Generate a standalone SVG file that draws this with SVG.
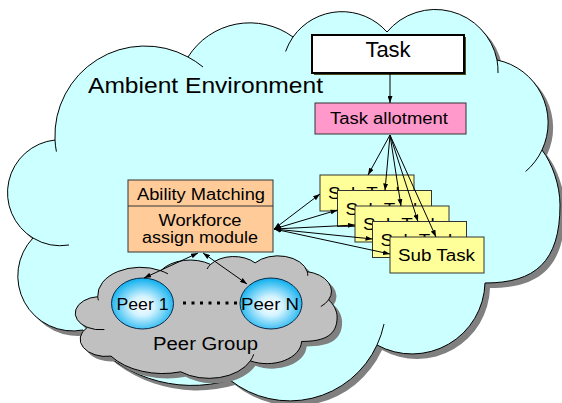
<svg xmlns="http://www.w3.org/2000/svg" width="562" height="403" viewBox="0 0 562 403">
<style>
text{font-family:"Liberation Sans",Arial,sans-serif;fill:#000}
.cloud{stroke:#000;stroke-width:1}
.tick{fill:none;stroke:#000;stroke-width:1}
.box{stroke:#333;stroke-width:1}
.sub{fill:#FFFF99;stroke:#333;stroke-width:1}
.con{stroke:#000;stroke-width:1;fill:none}
.peer{fill:url(#pg);stroke:#0a2a4a;stroke-width:1}
</style>
<defs>
<marker id="ah" viewBox="0 0 10 7" refX="10" refY="3.5" markerWidth="7" markerHeight="5" orient="auto-start-reverse" markerUnits="userSpaceOnUse">
<path d="M0,0 L10,3.5 L0,7 z" fill="#000"/>
</marker>
<radialGradient id="pg" cx="50%" cy="55%" r="55%">
<stop offset="0" stop-color="#ffffff"/>
<stop offset="0.35" stop-color="#d2f3ff"/>
<stop offset="1" stop-color="#0aaeee"/>
</radialGradient>
</defs>

<g id="ambient-environment">
<path transform="translate(5,5)" fill="#808080" d="M55,140 A90,90 0 0 1 188,57 A73,73 0 0 1 293,37 A60,60 0 0 1 387,32 A63,63 0 0 1 497,60 A64,64 0 0 1 542,150 C552,163 560,185 560,205 C560,262 535,283 485,283 A73,73 0 0 1 377,345 A96,96 0 0 1 230,380 A135,135 0 0 1 83,330 A55,55 0 0 1 33,238 A53,53 0 0 1 55,140 Z"/>
<path class="cloud" fill="#CCFFFF" d="M55,140 A90,90 0 0 1 188,57 A73,73 0 0 1 293,37 A60,60 0 0 1 387,32 A63,63 0 0 1 497,60 A64,64 0 0 1 542,150 C552,163 560,185 560,205 C560,262 535,283 485,283 A73,73 0 0 1 377,345 A96,96 0 0 1 230,380 A135,135 0 0 1 83,330 A55,55 0 0 1 33,238 A53,53 0 0 1 55,140 Z"/>
<path class="tick" d="M55,140 A90,90 0 0 0 56.4,151.6 M188,57 A90,90 0 0 1 203,67 M293,37 A60,60 0 0 0 285.6,51.5 M497,60 A63,63 0 0 1 498,73 M542,150 A64,64 0 0 1 525.6,171.5 M377,345 A96,96 0 0 0 384,324 M33,238 A53,53 0 0 0 69,245"/>
<text x="88" y="93" font-size="22" textLength="235" lengthAdjust="spacingAndGlyphs">Ambient Environment</text>
</g>

<g id="task">
<rect x="314" y="37" width="152" height="38" fill="#4d4d1a"/>
<rect x="312" y="35" width="152" height="38" fill="#fff" stroke="#000" stroke-width="2"/>
<text x="388" y="57" font-size="22" text-anchor="middle">Task</text>
</g>

<g id="task-allotment">
<rect class="box" x="315" y="103" width="151" height="31" fill="#FF99CC"/>
<text x="389" y="124" font-size="16" text-anchor="middle" textLength="118" lengthAdjust="spacingAndGlyphs">Task allotment</text>
</g>

<g id="workforce-module">
<rect class="box" x="128" y="180" width="145" height="72" fill="#FFCC99"/>
<line x1="128" y1="206" x2="273" y2="206" stroke="#333" stroke-width="1"/>
<text x="201" y="200" font-size="16" text-anchor="middle" textLength="128" lengthAdjust="spacingAndGlyphs">Ability Matching</text>
<text x="200" y="225.5" font-size="16" text-anchor="middle" textLength="83" lengthAdjust="spacingAndGlyphs">Workforce</text>
<text x="200" y="243" font-size="16" text-anchor="middle" textLength="116" lengthAdjust="spacingAndGlyphs">assign module</text>
</g>

<g id="subtask-1">
<rect class="sub" x="320" y="175" width="94" height="36"/>
<text x="328" y="199" font-size="16" textLength="77" lengthAdjust="spacingAndGlyphs">Sub Task</text>
</g>
<g id="subtask-2">
<rect class="sub" x="337.5" y="190.5" width="94" height="36"/>
<text x="345.5" y="214.5" font-size="16" textLength="77" lengthAdjust="spacingAndGlyphs">Sub Task</text>
</g>
<g id="subtask-3">
<rect class="sub" x="355" y="206" width="94" height="36"/>
<text x="363" y="230" font-size="16" textLength="77" lengthAdjust="spacingAndGlyphs">Sub Task</text>
</g>
<g id="subtask-4">
<rect class="sub" x="372.5" y="221.5" width="94" height="36"/>
<text x="380.5" y="245.5" font-size="16" textLength="77" lengthAdjust="spacingAndGlyphs">Sub Task</text>
</g>
<g id="subtask-5">
<rect class="sub" x="390" y="237" width="94" height="36"/>
<text x="398" y="260.5" font-size="16" textLength="77" lengthAdjust="spacingAndGlyphs">Sub Task</text>
</g>

<g id="peer-group">
<path transform="translate(80,261) scale(0.474,0.313) translate(-7,-10)" fill="#808080" d="M55,140 A90,90 0 0 1 188,57 A73,73 0 0 1 293,37 A60,60 0 0 1 387,32 A63,63 0 0 1 497,60 A64,64 0 0 1 542,150 C552,163 560,185 560,205 C560,262 535,283 485,283 A73,73 0 0 1 377,345 A96,96 0 0 1 230,380 A135,135 0 0 1 83,330 A55,55 0 0 1 33,238 A53,53 0 0 1 55,140 Z"/>
<path transform="translate(75,256) scale(0.474,0.313) translate(-7,-10)" class="cloud" vector-effect="non-scaling-stroke" fill="#C0C0C0" d="M55,140 A90,90 0 0 1 188,57 A73,73 0 0 1 293,37 A60,60 0 0 1 387,32 A63,63 0 0 1 497,60 A64,64 0 0 1 542,150 C552,163 560,185 560,205 C560,262 535,283 485,283 A73,73 0 0 1 377,345 A96,96 0 0 1 230,380 A135,135 0 0 1 83,330 A55,55 0 0 1 33,238 A53,53 0 0 1 55,140 Z"/>
<path transform="translate(75,256) scale(0.474,0.313) translate(-7,-10)" class="tick" vector-effect="non-scaling-stroke" d="M55,140 A90,90 0 0 0 56.4,151.6 M188,57 A90,90 0 0 1 203,67 M293,37 A60,60 0 0 0 285.6,51.5 M497,60 A63,63 0 0 1 498,73 M542,150 A64,64 0 0 1 525.6,171.5 M377,345 A96,96 0 0 0 384,324 M33,238 A53,53 0 0 0 69,245"/>
<text x="205.5" y="350" font-size="18" text-anchor="middle" textLength="105" lengthAdjust="spacingAndGlyphs">Peer Group</text>
</g>

<g id="peer-1">
<ellipse class="peer" cx="142.5" cy="303.5" rx="31" ry="25.5"/>
<text x="142.5" y="309.5" font-size="16" text-anchor="middle" textLength="52" lengthAdjust="spacingAndGlyphs">Peer 1</text>
</g>
<g id="peer-n">
<ellipse class="peer" cx="271" cy="303.5" rx="31" ry="25.5"/>
<text x="270" y="309.5" font-size="16" text-anchor="middle" textLength="58" lengthAdjust="spacingAndGlyphs">Peer N</text>
</g>

<g id="connectors">
<line class="con" x1="390" y1="74" x2="390" y2="103" marker-end="url(#ah)"/>
<line class="con" x1="390" y1="135" x2="368" y2="175" marker-end="url(#ah)"/>
<line class="con" x1="390" y1="135" x2="385" y2="190.5" marker-end="url(#ah)"/>
<line class="con" x1="390" y1="135" x2="401" y2="206" marker-end="url(#ah)"/>
<line class="con" x1="390" y1="135" x2="418" y2="221.5" marker-end="url(#ah)"/>
<line class="con" x1="390" y1="135" x2="436" y2="237" marker-end="url(#ah)"/>
<line class="con" x1="274" y1="229" x2="320" y2="194" marker-start="url(#ah)" marker-end="url(#ah)"/>
<line class="con" x1="274" y1="229" x2="337.5" y2="210" marker-start="url(#ah)" marker-end="url(#ah)"/>
<line class="con" x1="274" y1="229" x2="355" y2="225" marker-start="url(#ah)" marker-end="url(#ah)"/>
<line class="con" x1="274" y1="229" x2="372.5" y2="239" marker-start="url(#ah)" marker-end="url(#ah)"/>
<line class="con" x1="274" y1="229" x2="390" y2="254" marker-start="url(#ah)" marker-end="url(#ah)"/>
<line class="con" x1="198" y1="253" x2="144" y2="278" marker-start="url(#ah)" marker-end="url(#ah)"/>
<line class="con" x1="203" y1="253" x2="247" y2="284" marker-start="url(#ah)" marker-end="url(#ah)"/>
<line x1="183" y1="303" x2="239" y2="303" stroke="#000" stroke-width="3" stroke-dasharray="3 5.5"/>
</g>
</svg>
